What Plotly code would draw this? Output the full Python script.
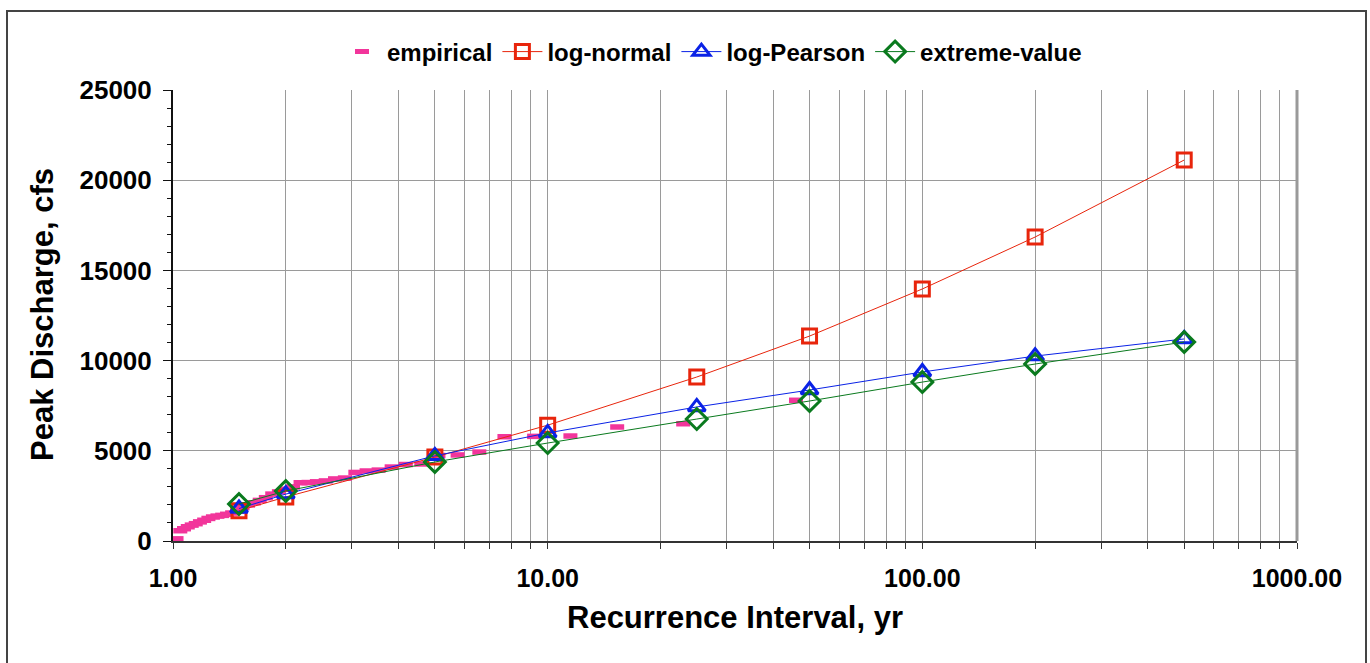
import plotly.graph_objects as go

# ---- data ----
emp_T = [46.0, 23.0, 15.33, 11.5, 9.2, 7.667, 6.571, 5.75, 5.111, 4.6, 4.182, 3.833,
         3.538, 3.286, 3.067, 2.875, 2.706, 2.556, 2.421, 2.3, 2.19, 2.091, 2.0,
         1.917, 1.84, 1.769, 1.704, 1.643, 1.586, 1.533, 1.484, 1.438, 1.394, 1.353,
         1.314, 1.278, 1.243, 1.211, 1.18, 1.15, 1.122, 1.095, 1.07, 1.046, 1.022]
emp_Q = [7800, 6500, 6320, 5820, 5800, 5780, 4930, 4770, 4740, 4270, 4240, 4100,
         3930, 3880, 3800, 3490, 3440, 3330, 3280, 3240, 3230, 3000, 2870,
         2720, 2600, 2400, 2250, 2120, 2000, 1850, 1650, 1550, 1480, 1420,
         1380, 1330, 1250, 1150, 1060, 960, 880, 790, 680, 570, 120]

fit_T = [1.5, 2, 5, 10, 25, 50, 100, 200, 500]
lognormal_Q = [1680, 2440, 4650, 6420, 9090, 11360, 13970, 16850, 21120]
logpearson_Q = [1800, 2600, 4720, 5990, 7430, 8370, 9370, 10250, 11200]
extreme_Q = [2050, 2770, 4380, 5430, 6760, 7760, 8810, 9810, 11030]

x_tickvals = [m * 10 ** d for d in range(3) for m in range(1, 10)] + [1000]
x_ticktext = [("%.2f" % v) if v in (1, 10, 100, 1000) else "" for v in x_tickvals]

PINK = "#f2359b"
RED = "#e8250c"
BLUE = "#0a22e6"
GREEN = "#0a7a1e"
FONT = "Liberation Sans, Arial, sans-serif"

fig = go.Figure()
fig.add_trace(go.Scatter(
    x=emp_T, y=emp_Q, mode="markers", name="empirical",
    marker=dict(symbol="line-ew", size=10, color=PINK, line=dict(color=PINK, width=5.5)),
))
fig.add_trace(go.Scatter(
    x=fit_T, y=lognormal_Q, mode="lines+markers", name="log-normal",
    line=dict(color=RED, width=1),
    marker=dict(symbol="square-open", size=14, color=RED, line=dict(color=RED, width=3)),
))
fig.add_trace(go.Scatter(
    x=fit_T, y=logpearson_Q, mode="lines+markers", name="log-Pearson",
    line=dict(color=BLUE, width=1),
    marker=dict(symbol="triangle-up-open", size=15, color=BLUE, line=dict(color=BLUE, width=3)),
))
fig.add_trace(go.Scatter(
    x=fit_T, y=extreme_Q, mode="lines+markers", name="extreme-value",
    line=dict(color=GREEN, width=1),
    marker=dict(symbol="diamond-open", size=16, color=GREEN, line=dict(color=GREEN, width=3)),
))

W, H = 1370, 663
L, R, T, B = 173, 73, 90, 122
pw, ph = W - L - R, H - T - B

def px_x(p):
    return (p - L) / pw

def px_y(p):
    return (H - B - p) / ph

fig.update_layout(
    width=W, height=H,
    margin=dict(l=L, r=R, t=T, b=B, autoexpand=False),
    paper_bgcolor="white", plot_bgcolor="white",
    font=dict(family=FONT, color="black", weight="bold"),
    showlegend=True,
    legend=dict(
        orientation="h", x=px_x(712), xanchor="center", y=px_y(52), yanchor="middle",
        font=dict(size=24, family=FONT, weight="bold"), bgcolor="rgba(0,0,0,0)",
        itemwidth=40, tracegroupgap=0,
    ),
    xaxis=dict(
        type="log", range=[0, 3], tickvals=x_tickvals, ticktext=x_ticktext,
        showgrid=True, gridcolor="#9a9a9a", gridwidth=1,
        ticks="outside", ticklen=6, tickcolor="#333", tickwidth=1,
        showline=True, linecolor="#333", linewidth=2,
        tickfont=dict(size=25, family=FONT, weight="bold"),
        ticklabelstandoff=8, zeroline=False,
    ),
    yaxis=dict(
        range=[0, 25000], dtick=5000, tickformat="d",
        showgrid=True, gridcolor="#9a9a9a", gridwidth=1,
        ticks="outside", ticklen=8, tickcolor="#111", tickwidth=1,
        showline=True, linecolor="#111", linewidth=2,
        minor=dict(dtick=1000, ticks="outside", ticklen=4, tickcolor="#111", showgrid=False),
        tickfont=dict(size=26, family=FONT, weight="bold"),
        ticklabelstandoff=6, zeroline=False,
    ),
    shapes=[
        dict(type="rect", xref="paper", yref="paper",
             x0=px_x(7), x1=px_x(1366), y0=px_y(700), y1=px_y(11),
             line=dict(color="#444", width=2), fillcolor="rgba(0,0,0,0)", layer="below"),
        dict(type="line", xref="paper", yref="paper", x0=1, x1=1, y0=0, y1=1,
             line=dict(color="#9a9a9a", width=3)),
    ],
    annotations=[
        dict(text="Recurrence Interval, yr", xref="paper", yref="paper",
             x=px_x(735), y=px_y(617), xanchor="center", yanchor="middle",
             showarrow=False, font=dict(size=31, family=FONT, weight="bold")),
        dict(text="Peak Discharge, cfs", xref="paper", yref="paper",
             x=px_x(42), y=px_y(315), xanchor="center", yanchor="middle", textangle=-90,
             showarrow=False, font=dict(size=31, family=FONT, weight="bold")),
    ],
)

fig.write_html(
    "out.html",
    config={"displayModeBar": False},
    post_script="document.body.style.margin='0';document.body.style.overflow='hidden';",
)
